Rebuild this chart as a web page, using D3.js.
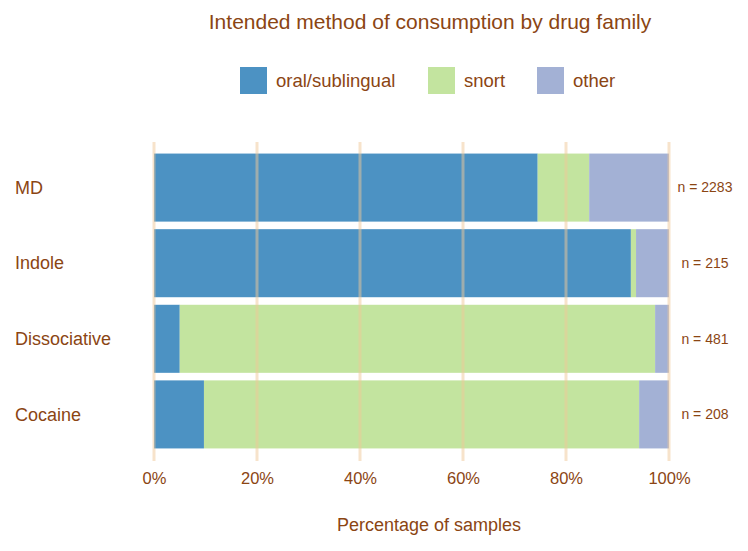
<!DOCTYPE html>
<html>
<head>
<meta charset="utf-8">
<script src="https://cdn.jsdelivr.net/npm/d3@7"></script>
<style>
  body { margin: 0; background: #fff; }
  text { font-family: "Liberation Sans", Arial, sans-serif; fill: #8b4513; }
</style>
</head>
<body>
<script>
// data
var families = ["MD", "Indole", "Dissociative", "Cocaine"];
var methods = ["oral/sublingual", "snort", "other"];
var oral = [74.5, 92.6, 5.0, 9.7];
var snort = [10.0, 1.0, 92.3, 84.5];
var other = [15.5, 6.4, 2.7, 5.8];
var counts = [2283, 215, 481, 208];
var ticks = [0, 20, 40, 60, 80, 100];

var colors = ["#4c92c3", "#c3e49f", "#a3b1d5"];

var width = 748;
var height = 551;

var svg = d3.select("body").append("svg")
  .attr("width", width)
  .attr("height", height);

var rows = families.map(function(f, i) {
  return { family: f, "oral/sublingual": oral[i], snort: snort[i], other: other[i], n: counts[i] };
});

var stack = d3.stack().keys(methods);
var series = stack(rows);

var xScale = d3.scaleLinear().domain([0, 100]).range([154, 669]);
var yScale = d3.scaleBand().domain(families).range([146, 456]).padding(0.1);
var color = d3.scaleOrdinal().domain(methods).range(colors);

// title
svg.append("text")
  .attr("x", 430)
  .attr("y", 29)
  .attr("text-anchor", "middle")
  .style("font-size", "21px")
  .text("Intended method of consumption by drug family");

// legend
var legendX = [240, 428, 537];
var legend = svg.append("g");
methods.forEach(function(m, i) {
  var g = legend.append("g").attr("transform", "translate(" + legendX[i] + ",67)");
  g.append("rect").attr("width", 27).attr("height", 27).attr("fill", color(m));
  g.append("text").attr("x", 36).attr("y", 20).style("font-size", "18.5px").text(m);
});

// bars
svg.append("g").selectAll("g")
  .data(series)
  .enter().append("g")
    .attr("fill", d => color(d.key))
  .selectAll("rect")
  .data(d => d)
  .enter().append("rect")
    .attr("x", d => xScale(d[0]))
    .attr("width", d => xScale(d[1]) - xScale(d[0]))
    .attr("y", d => yScale(d.data.family))
    .attr("height", yScale.bandwidth());

// grid lines drawn over bars
svg.append("g").selectAll("line")
  .data(ticks)
  .enter().append("line")
    .attr("x1", d => xScale(d))
    .attr("x2", d => xScale(d))
    .attr("y1", 142)
    .attr("y2", 461)
    .attr("stroke", "#f0c898")
    .attr("stroke-opacity", 0.5)
    .attr("stroke-width", 3);

// x axis labels
var xAxis = d3.axisBottom(xScale).tickValues(ticks).tickFormat(d => d + "%").tickSize(0).tickPadding(0);
var xg = svg.append("g").attr("transform", "translate(0,469)").call(xAxis);
xg.select(".domain").remove();
xg.selectAll("text").style("font-size", "16.5px").attr("dy", "0.9em").attr("fill", null);

// y axis labels (left aligned)
svg.append("g").selectAll("text")
  .data(families)
  .enter().append("text")
    .attr("x", 15)
    .attr("y", d => yScale(d) + yScale.bandwidth() / 2)
    .attr("dy", "0.35em")
    .style("font-size", "18px")
    .text(d => d);

// sample counts
svg.append("g").selectAll("text")
  .data(rows)
  .enter().append("text")
    .attr("x", 705)
    .attr("y", d => yScale(d.family) + yScale.bandwidth() / 2)
    .attr("dy", "0.35em")
    .attr("text-anchor", "middle")
    .style("font-size", "14px")
    .text(d => "n = " + d.n);

// x axis title
svg.append("text")
  .attr("x", 429)
  .attr("y", 531)
  .attr("text-anchor", "middle")
  .style("font-size", "18px")
  .text("Percentage of samples");
</script>
</body>
</html>
